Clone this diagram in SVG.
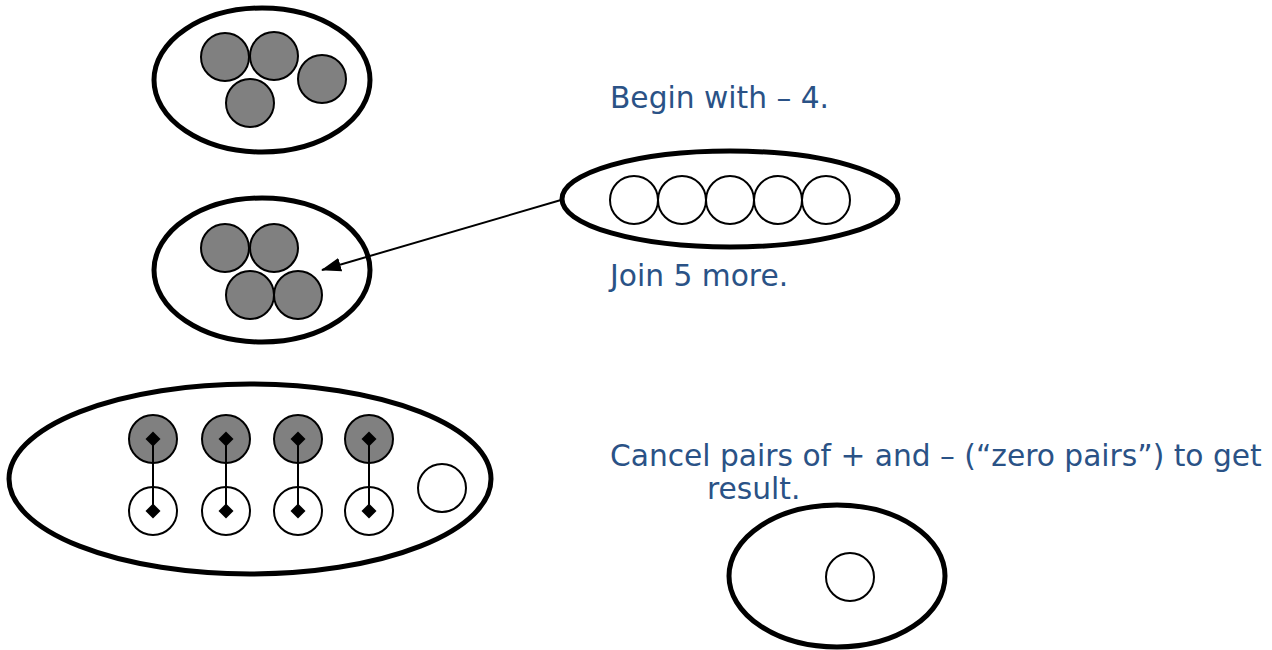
<svg xmlns="http://www.w3.org/2000/svg" width="1272" height="650" viewBox="0 0 1272 650">
  <style>
    .set { fill: #ffffff; stroke: #000000; stroke-width: 5; }
    .neg { fill: #808080; stroke: #000000; stroke-width: 2; }
    .pos { fill: #ffffff; stroke: #000000; stroke-width: 2; }
    .pair { stroke: #000000; stroke-width: 2; fill: none; }
    .note { font-family: "DejaVu Sans", Verdana, sans-serif; font-size: 29.7px; fill: #2a5286; }
  </style>
  <defs>
    <marker id="arrow" viewBox="0 0 20 14" refX="19" refY="7" markerWidth="20" markerHeight="14" orient="auto" markerUnits="userSpaceOnUse">
      <path d="M0,0 L20,7 L0,14 z" fill="#000000"/>
    </marker>
    <path id="dia" d="M0,-7.5 L7.5,0 L0,7.5 L-7.5,0 z" fill="#000000"/>
  </defs>
  <rect width="1272" height="650" fill="#ffffff"/>

  <!-- starting set: four negatives -->
  <g id="start-set">
    <ellipse class="set" cx="262" cy="80" rx="108" ry="72"/>
    <circle class="neg" cx="225" cy="57" r="24"/>
    <circle class="neg" cx="274" cy="56" r="24"/>
    <circle class="neg" cx="322" cy="79" r="24"/>
    <circle class="neg" cx="250" cy="103" r="24"/>
  </g>

  <!-- same set, receiving the joined positives -->
  <g id="join-target">
    <ellipse class="set" cx="262" cy="270" rx="108" ry="72"/>
    <circle class="neg" cx="225" cy="248" r="24"/>
    <circle class="neg" cx="274" cy="248" r="24"/>
    <circle class="neg" cx="250" cy="295" r="24"/>
    <circle class="neg" cx="298" cy="295" r="24"/>
  </g>

  <!-- five positives to join -->
  <g id="five-positives">
    <ellipse class="set" cx="730" cy="199" rx="168" ry="48"/>
    <circle class="pos" cx="634" cy="200" r="24"/>
    <circle class="pos" cx="682" cy="200" r="24"/>
    <circle class="pos" cx="730" cy="200" r="24"/>
    <circle class="pos" cx="778" cy="200" r="24"/>
    <circle class="pos" cx="826" cy="200" r="24"/>
  </g>

  <!-- combined set with zero pairs -->
  <g id="combined-set">
    <ellipse class="set" cx="250" cy="479" rx="241" ry="95"/>
    <circle class="neg" cx="153" cy="439" r="24"/>
    <circle class="neg" cx="226" cy="439" r="24"/>
    <circle class="neg" cx="298" cy="439" r="24"/>
    <circle class="neg" cx="369" cy="439" r="24"/>
    <circle class="pos" cx="153" cy="511" r="24"/>
    <circle class="pos" cx="226" cy="511" r="24"/>
    <circle class="pos" cx="298" cy="511" r="24"/>
    <circle class="pos" cx="369" cy="511" r="24"/>
    <circle class="pos" cx="442" cy="488" r="24"/>
  </g>

  <!-- result set -->
  <g id="result-set">
    <ellipse class="set" cx="837" cy="576" rx="108" ry="71"/>
    <circle class="pos" cx="850" cy="577" r="24"/>
  </g>

  <!-- connectors -->
  <g id="connectors">
    <line x1="561" y1="200" x2="322" y2="270" stroke="#000000" stroke-width="2" marker-end="url(#arrow)"/>
    <g id="zero-pairs">
      <line class="pair" x1="153" y1="439" x2="153" y2="511"/>
      <line class="pair" x1="226" y1="439" x2="226" y2="511"/>
      <line class="pair" x1="298" y1="439" x2="298" y2="511"/>
      <line class="pair" x1="369" y1="439" x2="369" y2="511"/>
      <use href="#dia" x="153" y="439"/>
      <use href="#dia" x="226" y="439"/>
      <use href="#dia" x="298" y="439"/>
      <use href="#dia" x="369" y="439"/>
      <use href="#dia" x="153" y="511"/>
      <use href="#dia" x="226" y="511"/>
      <use href="#dia" x="298" y="511"/>
      <use href="#dia" x="369" y="511"/>
    </g>
  </g>

  <!-- captions -->
  <g id="captions">
    <text class="note" x="610" y="108">Begin with – 4.</text>
    <text class="note" x="610" y="286">Join 5 more.</text>
    <text class="note" x="610" y="466">Cancel pairs of + and – (“zero pairs”) to get</text>
    <text class="note" x="707" y="499">result.</text>
  </g>
</svg>
